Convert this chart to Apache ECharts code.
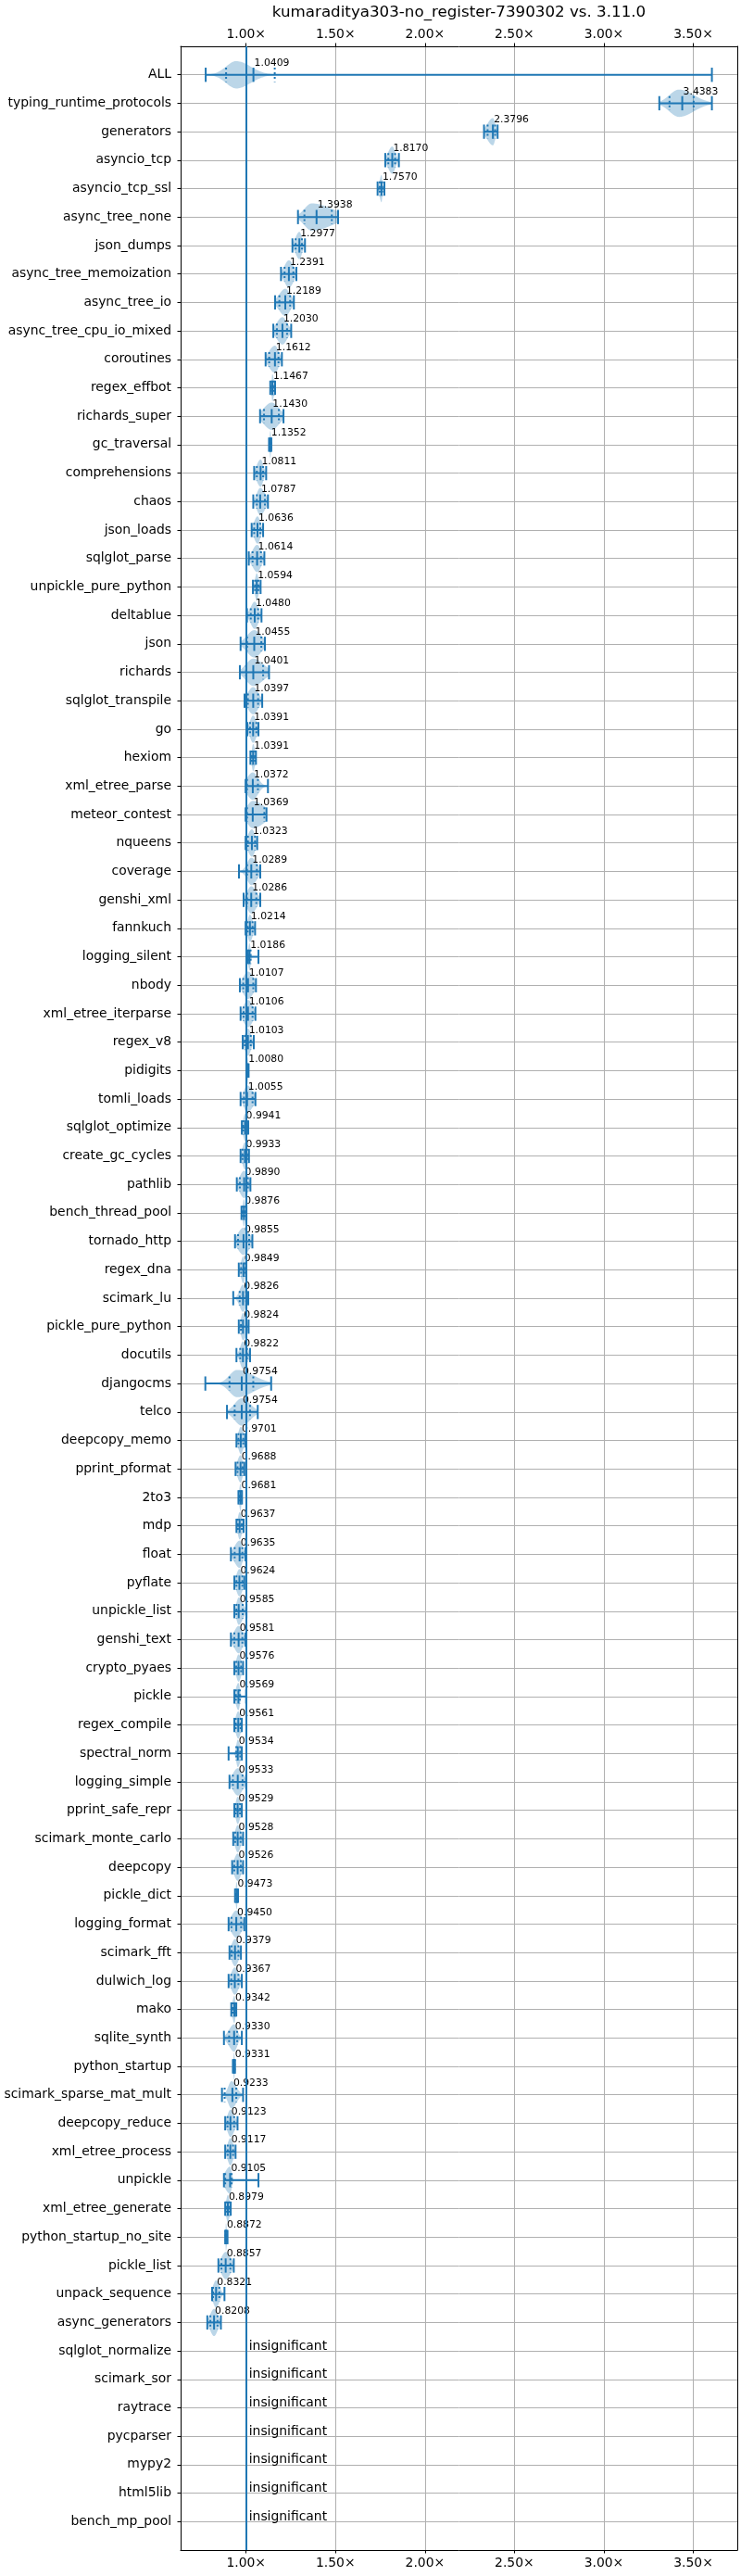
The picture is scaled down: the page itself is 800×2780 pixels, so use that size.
<!DOCTYPE html>
<html><head><meta charset="utf-8">
<script src="https://cdn.jsdelivr.net/npm/echarts@6/dist/echarts.min.js"></script>
<style>html,body{margin:0;padding:0;background:#fff}#c{width:800px;height:2780px}</style>
</head><body><div id="c"></div>
<script>
const chartTitle = 'kumaraditya303-no_register-7390302 vs. 3.11.0';
const benchmarks = ['ALL','typing_runtime_protocols','generators','asyncio_tcp','asyncio_tcp_ssl','async_tree_none','json_dumps','async_tree_memoization','async_tree_io','async_tree_cpu_io_mixed','coroutines','regex_effbot','richards_super','gc_traversal','comprehensions','chaos','json_loads','sqlglot_parse','unpickle_pure_python','deltablue','json','richards','sqlglot_transpile','go','hexiom','xml_etree_parse','meteor_contest','nqueens','coverage','genshi_xml','fannkuch','logging_silent','nbody','xml_etree_iterparse','regex_v8','pidigits','tomli_loads','sqlglot_optimize','create_gc_cycles','pathlib','bench_thread_pool','tornado_http','regex_dna','scimark_lu','pickle_pure_python','docutils','djangocms','telco','deepcopy_memo','pprint_pformat','2to3','mdp','float','pyflate','unpickle_list','genshi_text','crypto_pyaes','pickle','regex_compile','spectral_norm','logging_simple','pprint_safe_repr','scimark_monte_carlo','deepcopy','pickle_dict','logging_format','scimark_fft','dulwich_log','mako','sqlite_synth','python_startup','scimark_sparse_mat_mult','deepcopy_reduce','xml_etree_process','unpickle','xml_etree_generate','python_startup_no_site','pickle_list','unpack_sequence','async_generators','sqlglot_normalize','scimark_sor','raytrace','pycparser','mypy2','html5lib','bench_mp_pool'];
const insignificant = ['sqlglot_normalize','scimark_sor','raytrace','pycparser','mypy2','html5lib','bench_mp_pool'];
const medians = [1.0409,3.4383,2.3796,1.8170,1.7570,1.3938,1.2977,1.2391,1.2189,1.2030,1.1612,1.1467,1.1430,1.1352,1.0811,1.0787,1.0636,1.0614,1.0594,1.0480,1.0455,1.0401,1.0397,1.0391,1.0391,1.0372,1.0369,1.0323,1.0289,1.0286,1.0214,1.0186,1.0107,1.0106,1.0103,1.0080,1.0055,0.9941,0.9933,0.9890,0.9876,0.9855,0.9849,0.9826,0.9824,0.9822,0.9754,0.9754,0.9701,0.9688,0.9681,0.9637,0.9635,0.9624,0.9585,0.9581,0.9576,0.9569,0.9561,0.9534,0.9533,0.9529,0.9528,0.9526,0.9473,0.9450,0.9379,0.9367,0.9342,0.9330,0.9331,0.9233,0.9123,0.9117,0.9105,0.8979,0.8872,0.8857,0.8321,0.8208];
const mins = [0.774,3.310,2.330,1.778,1.735,1.290,1.259,1.195,1.162,1.152,1.109,1.135,1.078,1.128,1.045,1.040,1.031,1.015,1.038,1.005,0.969,0.965,0.991,1.007,1.024,0.997,0.997,0.997,0.960,0.986,0.997,1.010,0.965,0.969,0.981,1.003,0.969,0.976,0.969,0.948,0.974,0.938,0.959,0.928,0.959,0.946,0.772,0.893,0.946,0.941,0.957,0.946,0.915,0.934,0.934,0.915,0.934,0.934,0.934,0.902,0.907,0.934,0.928,0.922,0.938,0.902,0.907,0.902,0.917,0.876,0.926,0.865,0.883,0.883,0.876,0.883,0.883,0.845,0.810,0.783];
const q1s = [0.888,3.367,2.350,1.795,1.747,1.326,1.277,1.215,1.186,1.172,1.129,1.143,1.100,1.132,1.060,1.060,1.045,1.036,1.050,1.026,1.005,1.000,1.010,1.022,1.032,1.005,1.005,1.010,1.005,1.005,1.009,1.012,0.984,0.986,0.993,1.005,0.988,0.984,0.980,0.965,0.981,0.955,0.972,0.964,0.971,0.967,0.907,0.936,0.957,0.952,0.962,0.954,0.936,0.946,0.946,0.934,0.945,0.943,0.942,0.945,0.926,0.942,0.939,0.934,0.942,0.918,0.919,0.917,0.924,0.905,0.929,0.880,0.896,0.897,0.883,0.889,0.885,0.862,0.815,0.800];
const q3s = [1.160,3.502,2.392,1.833,1.761,1.479,1.312,1.264,1.246,1.229,1.181,1.155,1.183,1.139,1.095,1.105,1.079,1.083,1.069,1.067,1.085,1.095,1.067,1.057,1.049,1.066,1.102,1.050,1.060,1.057,1.036,1.025,1.040,1.036,1.026,1.011,1.036,1.004,1.006,1.010,0.995,1.017,0.993,1.000,1.002,1.005,1.040,1.022,0.984,0.980,0.973,0.976,0.979,0.979,0.981,0.979,0.972,0.965,0.969,0.967,0.980,0.966,0.969,0.970,0.951,0.972,0.957,0.957,0.940,0.950,0.936,0.945,0.933,0.927,0.919,0.907,0.892,0.912,0.850,0.840];
const maxs = [3.604,3.604,2.406,1.854,1.773,1.514,1.329,1.281,1.267,1.252,1.200,1.162,1.209,1.141,1.112,1.122,1.095,1.102,1.081,1.086,1.105,1.128,1.090,1.069,1.055,1.122,1.114,1.062,1.079,1.079,1.050,1.069,1.055,1.052,1.043,1.014,1.052,1.012,1.016,1.024,1.002,1.035,1.000,1.012,1.014,1.022,1.140,1.065,0.996,0.990,0.977,0.986,0.996,0.990,1.002,0.996,0.983,1.000,0.976,0.976,1.000,0.976,0.983,0.983,0.955,0.990,0.971,0.976,0.945,0.976,0.938,0.983,0.952,0.941,1.069,0.914,0.896,0.931,0.879,0.859];
// visible density peak where it differs from the median, and spread overrides
const violinPeaks = {ALL: 0.945, typing_runtime_protocols: 3.42, async_tree_none: 1.367, djangocms: 0.95, scimark_sparse_mat_mult: 0.918};
const violinSpreadLeft = {scimark_sparse_mat_mult: 0.018};
const violinSpreadRight = {ALL: 0.08};
const xTicks = [1.0, 1.5, 2.0, 2.5, 3.0, 3.5];
const baseline = 1.0;

const FONT = 'DejaVu Sans';
const BLUE = '#1f77b4';
const rowIdx = benchmarks.map((_, i) => i);

const violinData = medians.map((m, i) => {
  const name = benchmarks[i];
  const pk = violinPeaks[name] !== undefined ? violinPeaks[name] : m;
  const sL = violinSpreadLeft[name] !== undefined ? violinSpreadLeft[name] : Math.max(pk - q1s[i], 0.002);
  const sR = violinSpreadRight[name] !== undefined ? violinSpreadRight[name] : Math.max(q3s[i] - pk, 0.002);
  return [m, i, mins[i], q1s[i], q3s[i], maxs[i], pk, sL, sR];
});
const insigData = insignificant.map(n => [baseline, benchmarks.indexOf(n)]);

function renderViolin(params, api) {
  const md = api.value(0), row = api.value(1), mn = api.value(2), q1 = api.value(3),
        q3 = api.value(4), mx = api.value(5), pk = api.value(6), sL = api.value(7), sR = api.value(8);
  const rowH = api.size([0, 1])[1];
  const yc = api.coord([md, row])[1];
  const X = v => api.coord([v, row])[0];
  const N = 400;
  const top = [], bot = [];
  for (let k = 0; k <= N; k++) {
    const v = mn + (mx - mn) * k / N;
    const s = v < pk ? sL : sR;
    const z = (v - pk) / s;
    const h = 0.48 * rowH * Math.exp(-0.5 * z * z);
    top.push([X(v), yc - h]);
    bot.unshift([X(v), yc + h]);
  }
  const cap = 0.25 * rowH;
  const ln = (x1, y1, x2, y2, dash) => ({
    type: 'line', shape: {x1, y1, x2, y2},
    style: {stroke: BLUE, lineWidth: 2, lineDash: dash || null}
  });
  return {
    type: 'group',
    children: [
      {type: 'polygon', shape: {points: top.concat(bot)}, style: {fill: 'rgba(31,119,180,0.3)', stroke: null}},
      ln(X(mn), yc, X(mx), yc),
      ln(X(mn), yc - cap, X(mn), yc + cap),
      ln(X(mx), yc - cap, X(mx), yc + cap),
      ln(X(md), yc - cap, X(md), yc + cap),
      ln(X(q1), yc - cap, X(q1), yc + cap, [2, 3]),
      ln(X(q3), yc - cap, X(q3), yc + cap, [2, 3]),
      {type: 'text', style: {text: md.toFixed(4), x: X(md) + 1, y: yc - 0.41 * rowH, fill: '#000',
        fontSize: 10.8, fontFamily: FONT, align: 'left', verticalAlign: 'middle'}}
    ]
  };
}

function renderInsig(params, api) {
  const c = api.coord([api.value(0), api.value(1)]);
  return {type: 'text', style: {text: 'insignificant', x: c[0] + 3, y: c[1] - 5, fill: '#000',
    fontSize: 13.9, fontFamily: FONT, align: 'left', verticalAlign: 'middle'}};
}

const XMIN = 0.6338, XMAX = 3.746;
const axisLabelStyle = {fontSize: 13.9, color: '#000', fontFamily: FONT};
const chart = echarts.init(document.getElementById('c'), null, {renderer: 'canvas'});
chart.setOption({
  animation: false,
  backgroundColor: '#fff',
  grid: {left: 195, right: 4, top: 50, bottom: 28, containLabel: false, outerBoundsMode: 'none'},
  graphic: [{type: 'text', x: 495.5, y: 14, style: {text: chartTitle, fontSize: 16.7, fontFamily: FONT,
    fill: '#000', align: 'center', verticalAlign: 'middle'}}],
  xAxis: [
    {type: 'value', position: 'top', min: XMIN, max: XMAX,
     axisLine: {show: true, onZero: false, lineStyle: {color: '#000', width: 1}},
     axisTick: {show: true, length: 3.5, customValues: xTicks, lineStyle: {color: '#000', width: 1}},
     axisLabel: Object.assign({customValues: xTicks, margin: 6, formatter: v => v.toFixed(2) + '×'}, axisLabelStyle),
     splitLine: {show: true, lineStyle: {color: '#b0b0b0', width: 1}}},
    {type: 'value', position: 'bottom', min: XMIN, max: XMAX,
     axisLine: {show: true, onZero: false, lineStyle: {color: '#000', width: 1}},
     axisTick: {show: true, length: 3.5, customValues: xTicks, lineStyle: {color: '#000', width: 1}},
     axisLabel: Object.assign({customValues: xTicks, margin: 7, formatter: v => v.toFixed(2) + '×'}, axisLabelStyle),
     splitLine: {show: false}}
  ],
  yAxis: [
    {type: 'value', inverse: true, min: -1, max: benchmarks.length, position: 'left',
     axisLine: {show: true, onZero: false, lineStyle: {color: '#000', width: 1}},
     axisTick: {show: true, length: 3.5, customValues: rowIdx, lineStyle: {color: '#000', width: 1}},
     axisLabel: Object.assign({customValues: rowIdx, margin: 10, formatter: v => benchmarks[Math.round(v)] || ''}, axisLabelStyle),
     splitLine: {show: true, lineStyle: {color: '#b0b0b0', width: 1}}},
    {type: 'value', inverse: true, min: -1, max: benchmarks.length, position: 'right',
     axisLine: {show: true, onZero: false, lineStyle: {color: '#000', width: 1}},
     axisTick: {show: false}, axisLabel: {show: false}, splitLine: {show: false}}
  ],
  series: [
    {type: 'custom', name: 'violins', coordinateSystem: 'cartesian2d', xAxisIndex: 0, yAxisIndex: 0,
     renderItem: renderViolin, data: violinData, encode: {x: 0, y: 1}, clip: true, z: 2,
     markLine: {silent: true, symbol: 'none', animation: false, label: {show: false},
       lineStyle: {color: BLUE, width: 2, type: 'solid'}, data: [{xAxis: baseline}]}},
    {type: 'custom', name: 'insignificant', coordinateSystem: 'cartesian2d', xAxisIndex: 0, yAxisIndex: 0,
     renderItem: renderInsig, data: insigData, encode: {x: 0, y: 1}, z: 3}
  ]
});
</script></body></html>
